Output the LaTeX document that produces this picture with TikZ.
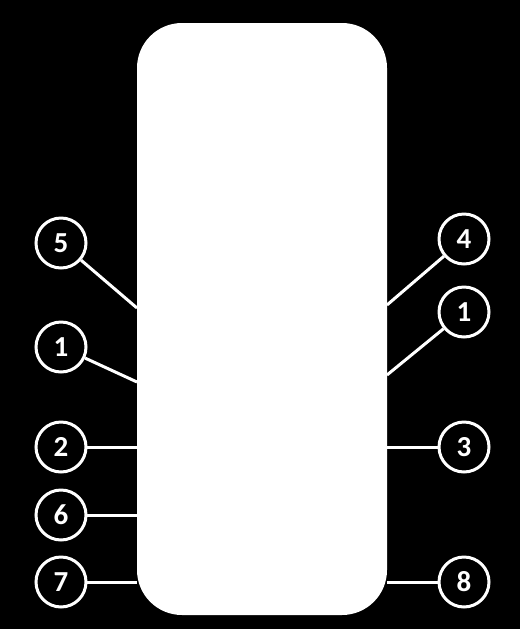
\documentclass[tikz,border=0pt]{standalone}
\usepackage{fontspec}
\setmainfont{Carlito}
\usepackage{tikz}
\usetikzlibrary{calc}

\tikzset{
  pin/.style={circle,draw=white,fill=black,line width=0.06cm,minimum size=1.0cm,inner sep=0pt,
    text=white,font=\fontsize{16.5}{19}\selectfont\bfseries},
  lead/.style={draw=white,line width=0.06cm},
  chip/.style={fill=white,rounded corners=0.9cm}
}

\begin{document}
\begin{tikzpicture}[x=0.02cm,y=-0.02cm]
\fill[black] (0,0) rectangle (520,629);
\useasboundingbox (0,0) rectangle (520,629);
% package body
\fill[chip] (137,23) rectangle (387,615);
% left pins
\node[pin] (p5) at (61,243) {5};
\node[pin] (p1l) at (61,347) {1};
\node[pin] (p2) at (61,447) {2};
\node[pin] (p6) at (61,515) {6};
\node[pin] (p7) at (61,582) {7};
% right pins
\node[pin] (p4) at (464,239) {4};
\node[pin] (p1r) at (464,312) {1};
\node[pin] (p3) at (464,447) {3};
\node[pin] (p8) at (464,582) {8};
% leads onto the body
\coordinate (l5) at (137,308);
\coordinate (l1) at (137,382);
\coordinate (l2) at (137,447);
\coordinate (l6) at (137,515);
\coordinate (l7) at (137,582);
\coordinate (r4) at (387,305);
\coordinate (r1) at (387,375);
\coordinate (r3) at (387,447);
\coordinate (r8) at (387,582);
\draw[lead] (p5) -- (l5);
\draw[lead] (p1l) -- (l1);
\draw[lead] (p2) -- (l2);
\draw[lead] (p6) -- (l6);
\draw[lead] (p7) -- (l7);
\draw[lead] (p4) -- (r4);
\draw[lead] (p1r) -- (r1);
\draw[lead] (p3) -- (r3);
\draw[lead] (p8) -- (r8);
\end{tikzpicture}
\end{document}
